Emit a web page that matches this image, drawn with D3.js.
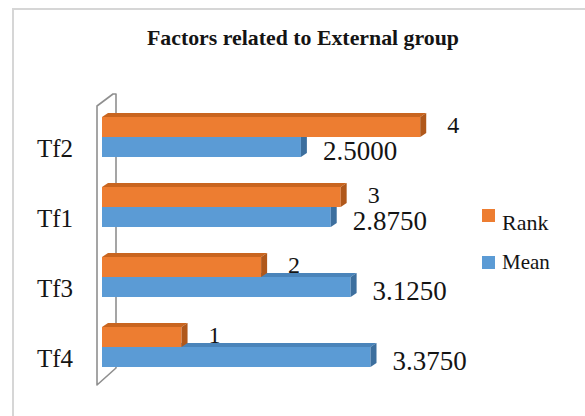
<!DOCTYPE html>
<html>
<head>
<meta charset="utf-8">
<script src="https://cdn.jsdelivr.net/npm/d3@7"></script>
<style>
  html, body { margin: 0; padding: 0; background: #fff; }
  svg { display: block; }
  text { font-family: "Liberation Serif", "Times New Roman", serif; fill: #141414; }
</style>
</head>
<body>
<svg id="chart" width="585" height="416"></svg>
<script>
// Factors related to External group: rank and mean for each factor
const categories = ["Tf2", "Tf1", "Tf3", "Tf4"];
const seriesNames = ["Rank", "Mean"];
const rankValues = [4, 3, 2, 1];
const meanValues = [2.5000, 2.8750, 3.1250, 3.3750];
const titleText = "Factors related to External group";

const colors = {
  Rank: { front: "#ED7D31", top: "#C9651F", side: "#B0581B" },
  Mean: { front: "#5B9BD5", top: "#4A84BA", side: "#3D6F9E" }
};

const svg = d3.select("#chart");

// Outer chart frame
svg.append("rect")
  .attr("x", 13).attr("y", 9)
  .attr("width", 600).attr("height", 420)
  .attr("fill", "#fff")
  .attr("stroke", "#d6d6d6").attr("stroke-width", 2);

// Title
svg.append("text")
  .attr("x", 147).attr("y", 45)
  .attr("font-size", 21).attr("font-weight", "bold")
  .attr("textLength", 312).attr("lengthAdjust", "spacingAndGlyphs")
  .text(titleText);

// Scales
const x = d3.scaleLinear().domain([0, 4.5]).range([102, 460]);
const y = d3.scaleBand().domain(categories)
  .range([102, 382]).paddingInner(3 / 7).paddingOuter(3 / 14);
const ySub = d3.scaleBand().domain(seriesNames).range([0, y.bandwidth()]);

// Depth of the 3-D bars
const dx = 6, dy = 4;

// Side wall of the plot (thin slab seen at an angle)
svg.append("path")
  .attr("d", "M97,385 L97,106 L113,94 L116,94 L116,368 Z")
  .attr("fill", "#fff")
  .attr("stroke", "#8f8f8f").attr("stroke-width", 1.6)
  .attr("stroke-linejoin", "round");

const rows = categories.map((c, i) => ({
  cat: c,
  Rank: rankValues[i],
  Mean: meanValues[i]
}));

// Draw each group: Mean (lower) first, then Rank on top of it
const drawOrder = ["Mean", "Rank"];
rows.forEach(r => {
  drawOrder.forEach(s => {
    const x0 = x(0), x1 = x(r[s]);
    const y0 = y(r.cat) + ySub(s);
    const h = ySub.bandwidth();
    const g = svg.append("g");
    // top face
    g.append("path")
      .attr("d", `M${x0},${y0} L${x0 + dx},${y0 - dy} L${x1 + dx},${y0 - dy} L${x1},${y0} Z`)
      .attr("fill", colors[s].top);
    // front face
    g.append("rect")
      .attr("x", x0).attr("y", y0)
      .attr("width", x1 - x0).attr("height", h)
      .attr("fill", colors[s].front);
    // right face
    g.append("path")
      .attr("d", `M${x1},${y0} L${x1 + dx},${y0 - dy} L${x1 + dx},${y0 + h - dy} L${x1},${y0 + h} Z`)
      .attr("fill", colors[s].side);
  });
});

// Category axis labels
svg.append("g").selectAll("text")
  .data(categories)
  .join("text")
  .attr("x", 73)
  .attr("y", d => y(d) + y.bandwidth())
  .attr("text-anchor", "end")
  .attr("font-size", 25)
  .text(d => d);

// Data labels: rank
svg.append("g").selectAll("text")
  .data(rows)
  .join("text")
  .attr("x", d => x(d.Rank) + 27)
  .attr("y", d => y(d.cat) + ySub("Rank") + ySub.bandwidth() - 4)
  .attr("font-size", 24)
  .text(d => d.Rank);

// Data labels: mean
const fmt = d3.format(".4f");
svg.append("g").selectAll("text")
  .data(rows)
  .join("text")
  .attr("x", d => x(d.Mean) + 22)
  .attr("y", d => y(d.cat) + ySub("Mean") + ySub.bandwidth() + 3)
  .attr("font-size", 27)
  .text(d => fmt(d.Mean));

// Legend
const legend = [
  { name: "Rank", sy: 209, ty: 230, fs: 22 },
  { name: "Mean", sy: 256, ty: 269, fs: 21 }
];
const lg = svg.append("g");
lg.selectAll("rect")
  .data(legend)
  .join("rect")
  .attr("x", 482).attr("y", d => d.sy)
  .attr("width", 13).attr("height", 13)
  .attr("fill", d => colors[d.name].front);
lg.selectAll("text")
  .data(legend)
  .join("text")
  .attr("x", 502).attr("y", d => d.ty)
  .attr("font-size", d => d.fs)
  .text(d => d.name);
</script>
</body>
</html>
